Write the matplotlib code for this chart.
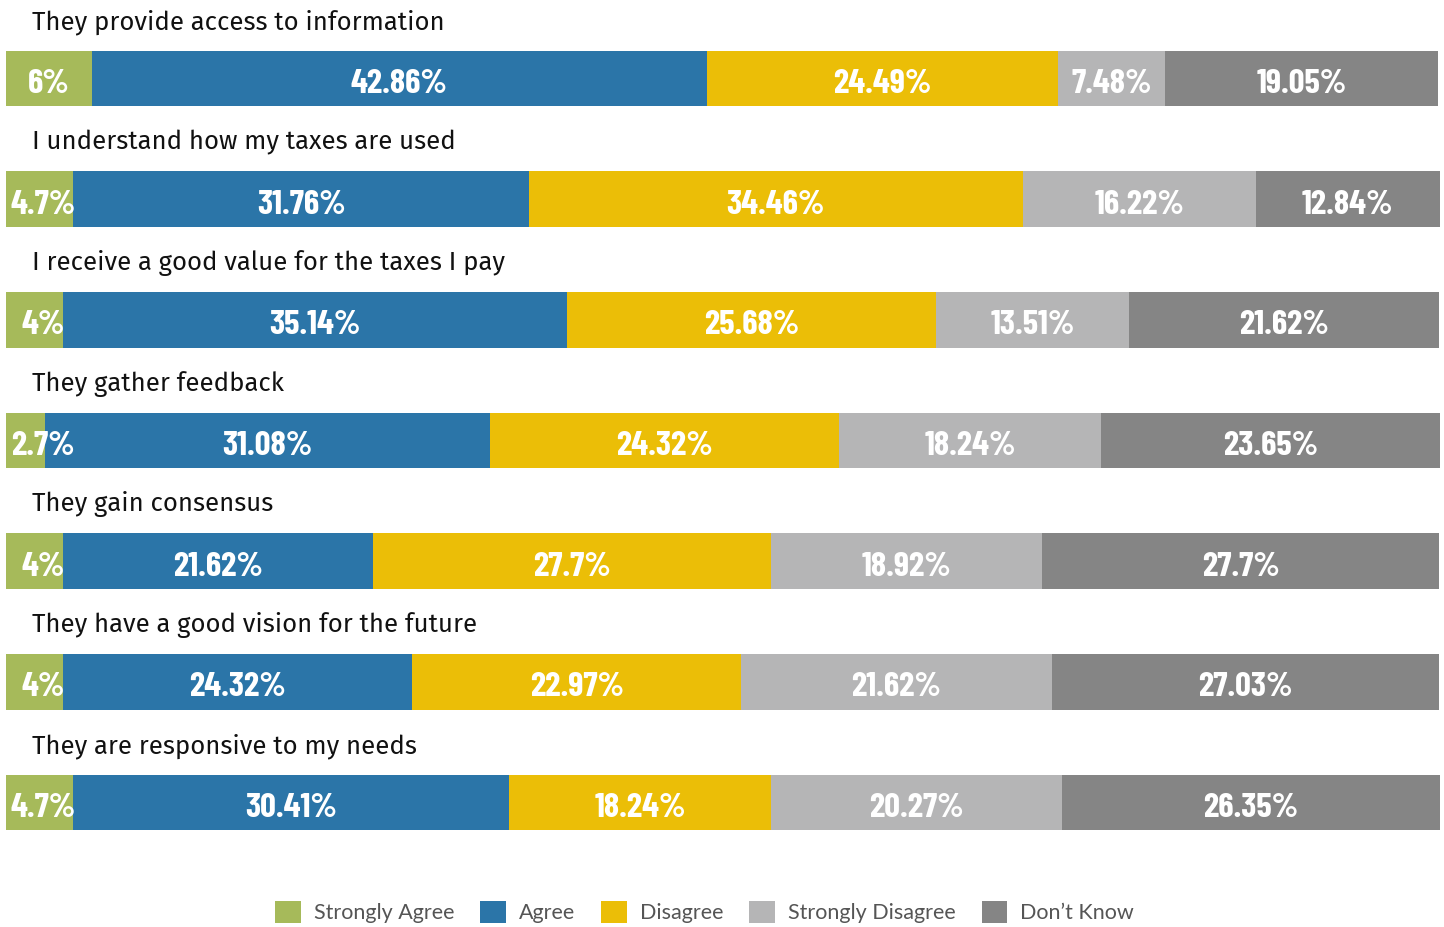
import matplotlib.pyplot as plt
from matplotlib.patches import Patch

questions = [
    "They provide access to information",
    "I understand how my taxes are used",
    "I receive a good value for the taxes I pay",
    "They gather feedback",
    "They gain consensus",
    "They have a good vision for the future",
    "They are responsive to my needs",
]
categories = ["Strongly Agree", "Agree", "Disagree", "Strongly Disagree", "Don\u2019t Know"]
strongly_agree = [6, 4.7, 4, 2.7, 4, 4, 4.7]
agree = [42.86, 31.76, 35.14, 31.08, 21.62, 24.32, 30.41]
disagree = [24.49, 34.46, 25.68, 24.32, 27.7, 22.97, 18.24]
strongly_disagree = [7.48, 16.22, 13.51, 18.24, 18.92, 21.62, 20.27]
dont_know = [19.05, 12.84, 21.62, 23.65, 27.7, 27.03, 26.35]
colors = ["#a6ba5a", "#2b75a8", "#ebbe07", "#b5b5b6", "#858585"]

value_font = ["Barlow Condensed", "Oswald", "DejaVu Sans"]
label_font = ["Fira Sans", "Open Sans", "DejaVu Sans"]
legend_font = ["Lato", "DejaVu Sans"]


def fmt(v):
    s = f"{v:.2f}".rstrip("0").rstrip(".")
    return s + "%"


fig = plt.figure(figsize=(14.44, 9.27), dpi=100)
ax = fig.add_axes([6 / 1444, 0.0693, 1434 / 1444, 0.911])
series = [strongly_agree, agree, disagree, strongly_disagree, dont_know]

for i, q in enumerate(questions):
    left = 0
    for j, vals in enumerate(series):
        v = vals[i]
        ax.barh(i, v, left=left, height=0.46, color=colors[j], linewidth=0)
        x = max(left + v / 2, left + 2.6) if j == 0 else left + v / 2
        ax.text(x, i + 0.02, fmt(v), ha="center", va="center_baseline", color="white",
                fontsize=25, fontweight="bold", family=value_font)
        left += v
    ax.text(1.8, i - 0.47, q, ha="left", va="center", fontsize=18.5,
            family=label_font, color="#111111")

ax.set_xlim(0, 100)
ax.set_ylim(6.5, -0.5)
ax.axis("off")

handles = [Patch(facecolor=c, edgecolor="none") for c in colors]
fig.legend(handles, categories, loc="center", bbox_to_anchor=(0.488, 1 - 912 / 927),
           ncol=5, frameon=False, labelcolor="#555555",
           handlelength=1.2, handleheight=1.2, handletextpad=0.6, columnspacing=1.2,
           prop={"family": legend_font, "size": 15.5})

fig.savefig("out.png", dpi=100)
plt.close(fig)
